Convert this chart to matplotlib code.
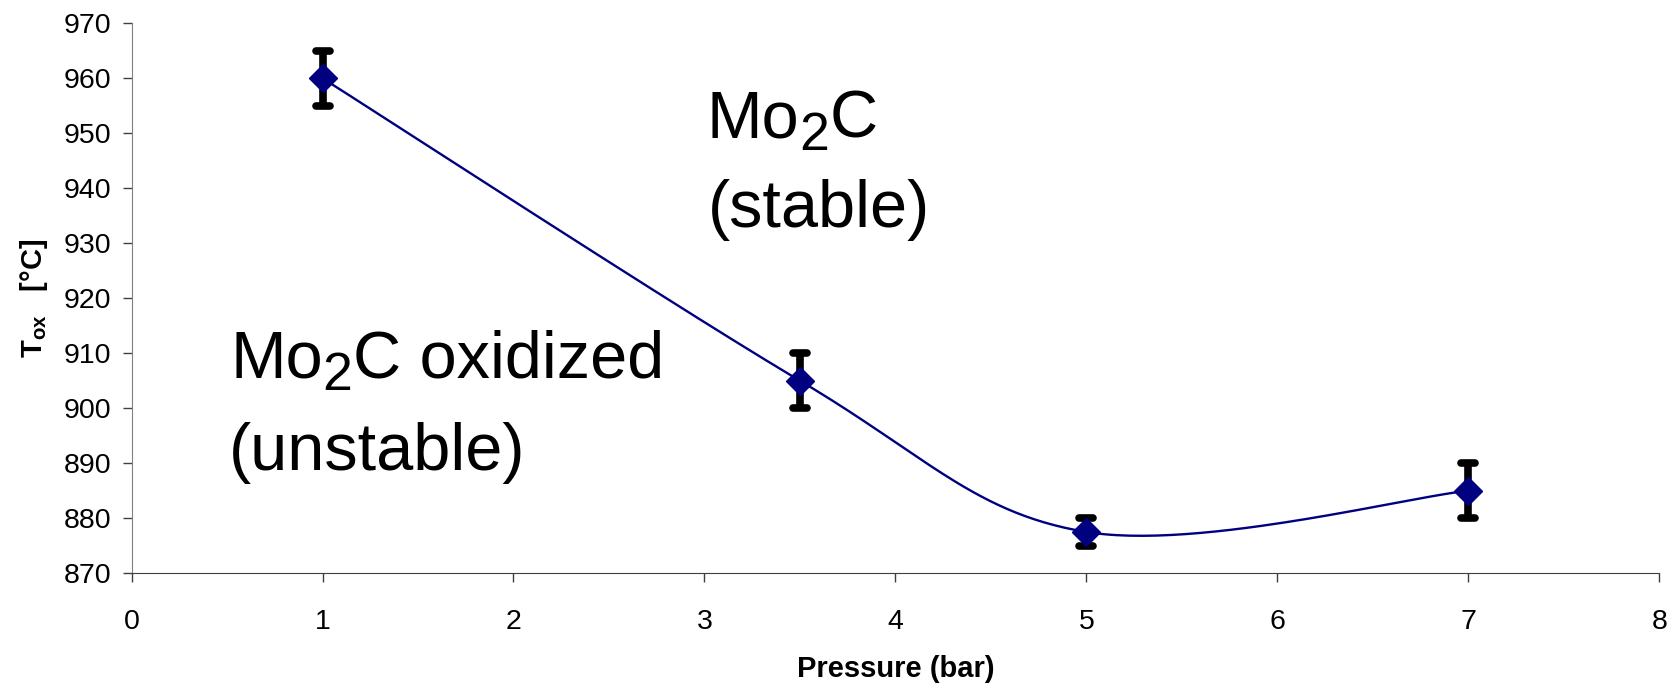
import matplotlib
matplotlib.use('Agg')
import matplotlib.pyplot as plt
from matplotlib.markers import MarkerStyle
from matplotlib.transforms import offset_copy
import numpy as np

plt.rcParams['font.family'] = ['Liberation Sans', 'DejaVu Sans']
plt.rcParams['mathtext.fontset'] = 'custom'
plt.rcParams['mathtext.rm'] = 'Liberation Sans'
plt.rcParams['mathtext.bf'] = 'Liberation Sans:bold'

# data
pressure = [1, 3.5, 5, 7]
t_ox = [960, 905, 877.5, 885]
t_err = [5, 5, 2.5, 5]


def smooth(x, y, n=60):
    # Catmull-Rom style smoothing like the spreadsheet "smoothed line"
    x = np.asarray(x, float)
    y = np.asarray(y, float)
    px = np.concatenate([[x[0]], x, [x[-1]]])
    py = np.concatenate([[y[0]], y, [y[-1]]])
    xs, ys = [], []
    t = np.linspace(0, 1, n)
    for i in range(1, len(px) - 2):
        p0 = np.array([px[i], py[i]])
        p3 = np.array([px[i + 1], py[i + 1]])
        c1 = p0 + (np.array([px[i + 1], py[i + 1]]) - np.array([px[i - 1], py[i - 1]])) / 6
        c2 = p3 - (np.array([px[i + 2], py[i + 2]]) - np.array([px[i], py[i]])) / 6
        b = ((1 - t) ** 3)[:, None] * p0 + (3 * (1 - t) ** 2 * t)[:, None] * c1 \
            + (3 * (1 - t) * t ** 2)[:, None] * c2 + (t ** 3)[:, None] * p3
        xs.extend(b[:, 0])
        ys.extend(b[:, 1])
    return xs, ys


fig = plt.figure(figsize=(16.76, 6.84), dpi=100)
ax = fig.add_axes([0.0785, 0.162, 0.9115, 0.804])
renderer = fig.canvas.get_renderer()


def formula(x, y, size=48, sub=38.5, drop=12.5, tail='C'):
    # "Mo", subscript "2", then the rest, placed on one baseline
    dx = 0
    for s, fs, dy in [('Mo', size, 0), ('2', sub, -drop), (tail, size, 0)]:
        tr = offset_copy(ax.transData, fig=fig, x=dx, y=dy, units='dots')
        t = ax.text(x, y, s, fontsize=fs, transform=tr, va='baseline', ha='left')
        dx += t.get_window_extent(renderer).width


sx, sy = smooth(pressure, t_ox)
ax.plot(sx, sy, color='#000080', lw=1.7, zorder=2)
_, caps, bars = ax.errorbar(pressure, t_ox, yerr=t_err, fmt='none', ecolor='black',
                            elinewidth=5.5, capsize=5.2, capthick=5.5, zorder=3)
for c in caps:
    c.set_marker(MarkerStyle('_', capstyle='round'))
ax.plot(pressure, t_ox, 'D', color='#000080', ms=14, zorder=4)

ax.set_xlim(0, 8)
ax.set_ylim(870, 970)
ax.set_xticks(range(0, 9))
ax.set_yticks(range(870, 971, 10))
ax.tick_params(labelsize=20.5, direction='out', length=6.5, width=1, color='#404040')
ax.tick_params(axis='x', pad=19)
ax.tick_params(axis='y', pad=8)
ax.spines['top'].set_visible(False)
ax.spines['right'].set_visible(False)
ax.spines['left'].set_color('#808080')
ax.spines['bottom'].set_color('#404040')

ax.set_xlabel('Pressure (bar)', fontsize=21, fontweight='bold', labelpad=15)
ax.set_ylabel(r'$\mathbf{T_{ox}}$   [°C]', fontsize=21, fontweight='bold', labelpad=10)

formula(3.012, 949.3)
ax.text(3.02, 933.0, '(stable)', fontsize=48, va='baseline', ha='left')
formula(0.516, 905.5, tail='C oxidized')
ax.text(0.51, 888.7, '(unstable)', fontsize=48, va='baseline', ha='left')

fig.savefig('out.png', dpi=100)
